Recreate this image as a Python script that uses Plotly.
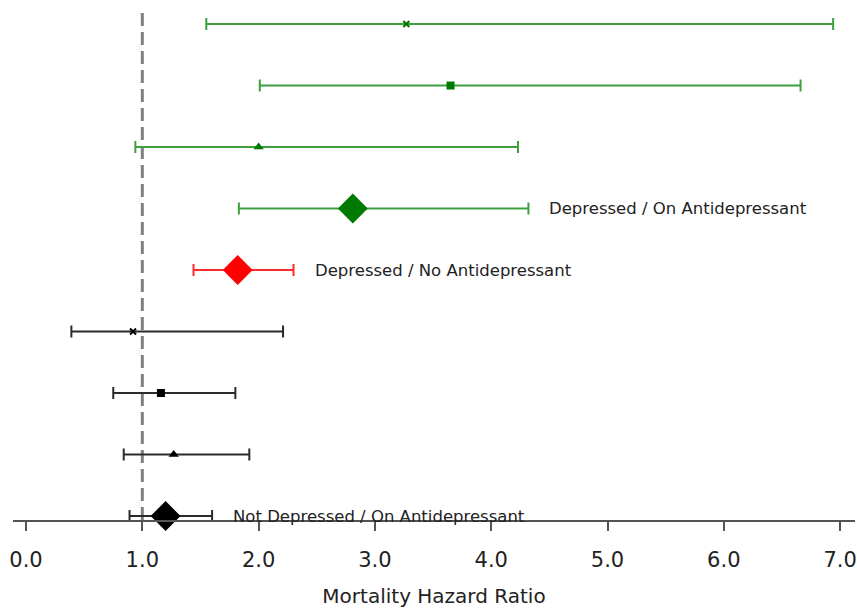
import plotly.graph_objects as go

# Rows from top (1) to bottom (9)
rows = [1, 2, 3, 4, 5, 6, 7, 8, 9]
hazard_ratio = [3.27, 3.65, 2.00, 2.81, 1.82, 0.92, 1.16, 1.27, 1.20]
ci_low = [1.55, 2.01, 0.94, 1.83, 1.44, 0.39, 0.75, 0.84, 0.89]
ci_high = [6.94, 6.66, 4.23, 4.32, 2.30, 2.21, 1.80, 1.92, 1.60]
group = ["dep_on", "dep_on", "dep_on", "dep_on", "dep_no",
         "nodep_on", "nodep_on", "nodep_on", "nodep_on"]
symbols = ["x-thin", "square", "triangle-up", "diamond", "diamond",
           "x-thin", "square", "triangle-up", "diamond"]
sizes = [6, 8, 9, 23, 23, 6, 8, 9, 23]

label_rows = [4, 5, 9]
label_texts = ["Depressed / On Antidepressant",
               "Depressed / No Antidepressant",
               "Not Depressed / On Antidepressant"]

x_ticks = [0, 1, 2, 3, 4, 5, 6, 7]

line_colors = {"dep_on": "#3f9f3f", "dep_no": "#ff2a2a", "nodep_on": "#2b2b2b"}
marker_colors = {"dep_on": "#007a00", "dep_no": "#ff0000", "nodep_on": "#000000"}

fig = go.Figure()
for r, h, lo, hi, g, s, sz in zip(rows, hazard_ratio, ci_low, ci_high, group, symbols, sizes):
    fig.add_trace(go.Scatter(
        x=[h], y=[r], mode="markers", cliponaxis=False,
        marker=dict(symbol=s, size=sz, color=marker_colors[g],
                    line=dict(width=2 if s == "x-thin" else 0, color=marker_colors[g])),
        error_x=dict(type="data", symmetric=False, array=[hi - h], arrayminus=[h - lo],
                     color=line_colors[g], thickness=2, width=6),
        showlegend=False, hoverinfo="x",
    ))

for r, t in zip(label_rows, label_texts):
    i = rows.index(r)
    fig.add_annotation(x=ci_high[i], y=r, text=t, showarrow=False,
                       xanchor="left", yanchor="middle", xshift=19,
                       font=dict(family="DejaVu Sans", size=16.5, color="#222222"))

fig.add_shape(type="line", x0=1, x1=1, xref="x", y0=0, y1=1, yref="paper",
              line=dict(color="#808080", width=3, dash="13px,6px"), layer="below")

fig.update_layout(
    width=857, height=611,
    margin=dict(l=13, r=2, t=10, b=91),
    plot_bgcolor="white", paper_bgcolor="white",
    font=dict(family="DejaVu Sans", color="#222222"),
    xaxis=dict(range=[-0.112, 7.128], tickvals=x_ticks, tickformat=".1f",
               automargin=False,
               showgrid=False, zeroline=False, showline=True,
               linecolor="#555555", linewidth=2,
               ticks="outside", ticklen=9, tickwidth=2, tickcolor="#555555",
               ticklabelstandoff=11,
               tickfont=dict(size=21, color="#222222"),
               title=dict(text="Mortality Hazard Ratio", font=dict(size=20, color="#222222"),
                          standoff=18)),
    yaxis=dict(range=[9.065, 0.772], showgrid=False, zeroline=False, automargin=False,
               showline=False, showticklabels=False, ticks=""),
)

fig.write_html("out.html", config={"displayModeBar": False},
               post_script="document.body.style.margin='0';document.body.style.overflow='hidden';")
